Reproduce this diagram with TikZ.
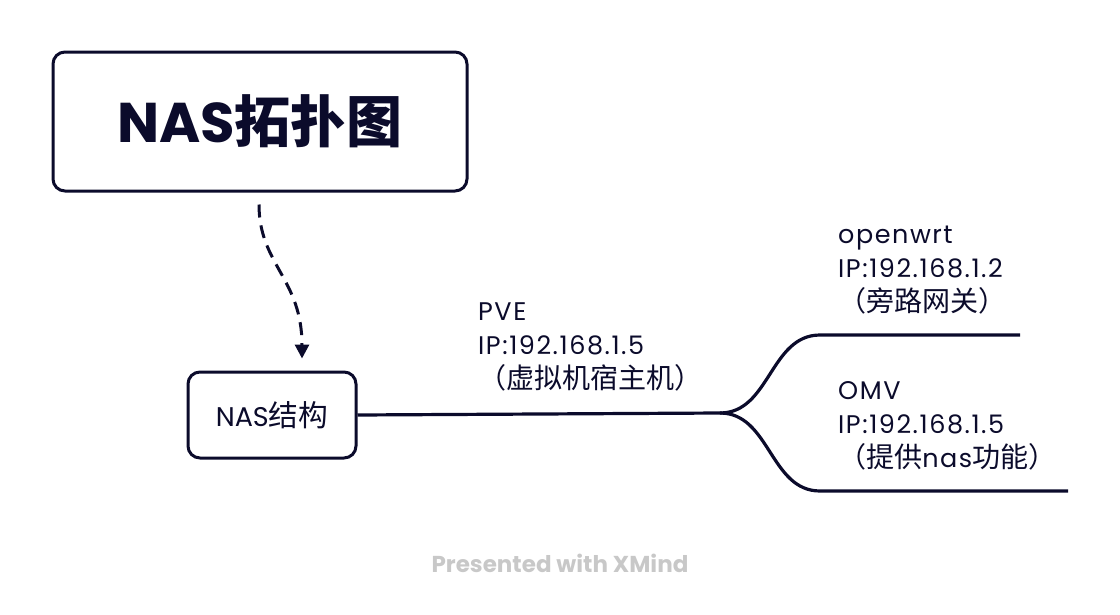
\documentclass[tikz,border=0pt]{standalone}
\usepackage{fontspec}
\setmainfont{Poppins}
\newfontfamily\lat[LetterSpace=6]{Poppins}
\newfontfamily\cjk{Noto Sans CJK SC}
\newfontfamily\cjkb[Scale=1.1]{Noto Sans CJK SC}
\usetikzlibrary{arrows.meta}
\definecolor{ink}{HTML}{0B0B2B}
\definecolor{mark}{HTML}{C8C8C8}
\tikzset{
  topicbox/.style={draw=ink, line width=3pt, rounded corners=12pt, text=ink, inner sep=0pt},
  label/.style={text=ink, align=left, anchor=base west, inner sep=0pt, font=\lat\fontsize{25.5}{34}\selectfont},
  branch/.style={draw=ink, line width=3.2pt},
  rel/.style={draw=ink, line width=3pt, dash pattern=on 13pt off 8pt, -{Triangle[width=14pt,length=14pt]}}
}
\begin{document}
\begin{tikzpicture}[x=1pt,y=-1pt]
\path[use as bounding box] (0,0) rectangle (1120,614);
\node[topicbox, minimum width=414pt, minimum height=139pt, font=\fontsize{56}{60}\bfseries\selectfont] (title) at (260,121.5) {NAS{\cjk 拓扑图}};
\node[topicbox, minimum width=168pt, minimum height=86pt, font=\fontsize{27}{30}\selectfont] (nas) at (272,415) {NAS{\cjkb 结构}};
\draw[rel] ([xshift=-1pt,yshift=-12pt]title.south) .. controls +(0,60) and +(0,-80) .. ([xshift=30pt,yshift=12pt]nas.north);
\coordinate (j) at (720,413);
\coordinate (t0) at (820,335);
\coordinate (t) at (1020,335);
\coordinate (b0) at (820,491);
\coordinate (b) at (1068,491);
\draw[branch] (nas.east) -- (j);
\draw[branch] (j) .. controls (770,413) and (770,335) .. (t0) -- (t);
\draw[branch] (j) .. controls (770,413) and (770,491) .. (b0) -- (b);
\node[label] (pve) at (478,388) {PVE\\IP:192.168.1.5\\{\cjkb （虚拟机宿主机）}};
\node[label] (wrt) at (838,311) {openwrt\\IP:192.168.1.2\\{\cjkb （旁路网关）}};
\node[label] (omv) at (838,467) {OMV\\IP:192.168.1.5\\{\cjkb （提供}nas{\cjkb 功能）}};
\node[text=mark, font=\fontsize{23}{26}\bfseries\selectfont, inner sep=0pt] (wm) at (560,563) {Presented with XMind};
\end{tikzpicture}
\end{document}
